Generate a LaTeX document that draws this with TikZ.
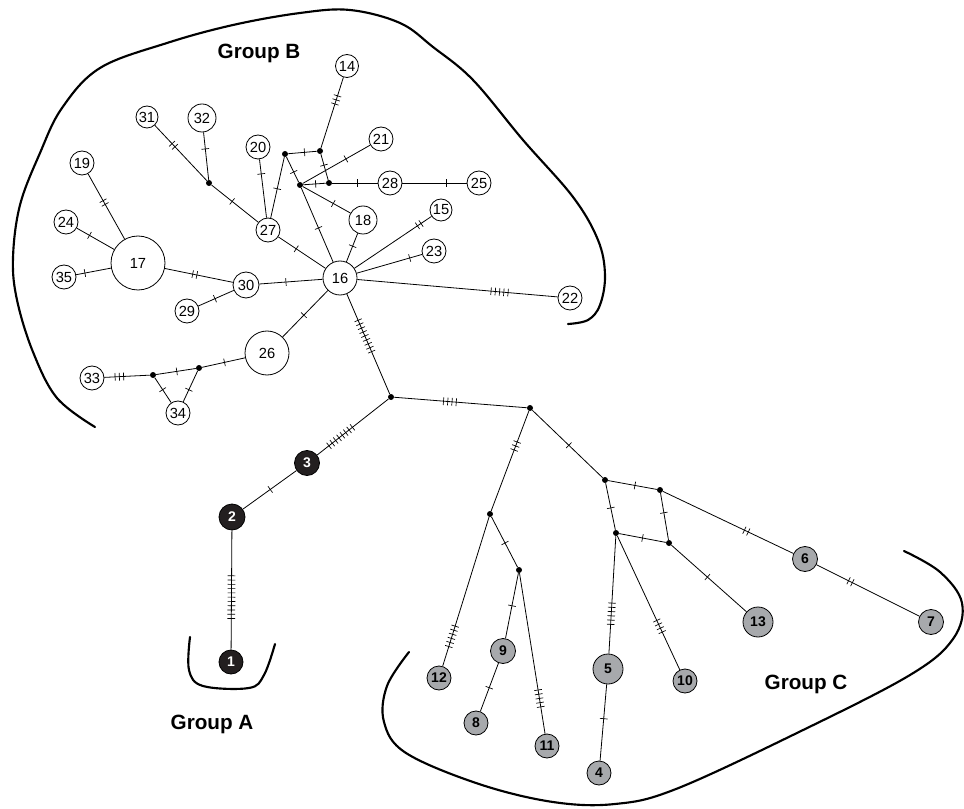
\documentclass[tikz,border=0pt]{standalone}
\usepackage{fontspec}
\setmainfont{Liberation Sans}
\usetikzlibrary{decorations.markings}

\definecolor{hapgray}{HTML}{A7A9AC}
\definecolor{hapblack}{HTML}{231F20}

\begin{document}
\begin{tikzpicture}[x=0.75pt,y=-0.75pt,
  hw/.style={circle,draw,line width=0.6pt,fill=white,inner sep=0pt,minimum size=#1*1.5pt,font=\fontsize{11}{13}\selectfont},
  hg/.style={hw=#1,fill=hapgray,font=\bfseries\fontsize{10.5}{12}\selectfont},
  hb/.style={hw=#1,fill=hapblack,text=white,font=\bfseries\fontsize{10.5}{12}\selectfont},
  jn/.style={circle,fill=black,inner sep=0pt,minimum size=4.5pt},
  link/.style={line width=0.6pt},
  hatch/.style 2 args={postaction={decorate,decoration={markings,mark=at position #2 with {\foreach \k in {1,...,#1}{\draw[line width=0.5pt] ({(\k-(#1+1)/2)*3.2pt},-2.9pt) -- ++(0,5.8pt);}}}}},
  grp/.style={line width=1.6pt,line cap=round},
  lbl/.style={font=\bfseries\fontsize{15.5}{18}\selectfont}
]
\path[fill=white] (0,0) rectangle (964,809);
\useasboundingbox (0,0) rectangle (964,809);

% ---- group outlines ----
\draw[grp] plot[smooth,tension=0.6] coordinates {(95,427) (57,398) (33,352) (17,300) (13,258) (20,205) (40,153) (62,108) (100,68) (167,43) (233,25) (300,13) (350,10) (400,23) (433,47) (473,80) (523,140) (573,197) (598,240) (605,275) (600,305) (588,320) (568,324)};
\draw[grp] plot[smooth,tension=0.6] coordinates {(190,637) (189,670) (203,686) (249,688) (264,675) (275,644)};
\draw[grp] plot[smooth,tension=0.6] coordinates {(409,652) (387,686) (384,722) (406,753) (479,784) (553,802) (615,804) (676,789) (799,732) (910,675) (953,639) (962,603) (940,572) (904,551)};

\node[lbl] (gA) at (212,724) {Group A};
\node[lbl] (gB) at (259,53) {Group B};
\node[lbl] (gC) at (806,684) {Group C};

% ---- group B haplotypes ----
\node[hw=11.5] (n14) at (347,66) {14};
\node[hw=11] (n31) at (147,117) {31};
\node[hw=14] (n32) at (202,118) {32};
\node[hw=12] (n20) at (258,147) {20};
\node[hw=12] (n21) at (381,139) {21};
\node[hw=12] (n28) at (390,183) {28};
\node[hw=12] (n25) at (479,183) {25};
\node[hw=12] (n19) at (82,163) {19};
\node[hw=12] (n24) at (66,222) {24};
\node[hw=27] (n17) at (138,263) {17};
\node[hw=12] (n35) at (64,277) {35};
\node[hw=12] (n27) at (268,230) {27};
\node[hw=14] (n18) at (363,220) {18};
\node[hw=17] (n16) at (340,278) {16};
\node[hw=13] (n30) at (246,285) {30};
\node[hw=12] (n29) at (187,311) {29};
\node[hw=11] (n15) at (441,210) {15};
\node[hw=12] (n23) at (434,251) {23};
\node[hw=12] (n22) at (570,298) {22};
\node[hw=22] (n26) at (267,353) {26};
\node[hw=12] (n33) at (92,378) {33};
\node[hw=12] (n34) at (178,413) {34};

% ---- group A haplotypes ----
\node[hb=12.5] (n3) at (307,463) {3};
\node[hb=13] (n2) at (232,517) {2};
\node[hb=12] (n1) at (231,662) {1};

% ---- group C haplotypes ----
\node[hg=12.5] (n9) at (503,651) {9};
\node[hg=12] (n12) at (439,678) {12};
\node[hg=12] (n8) at (476,723) {8};
\node[hg=12] (n11) at (547,746) {11};
\node[hg=15] (n5) at (608,669) {5};
\node[hg=12] (n10) at (685,681) {10};
\node[hg=15] (n13) at (758,622) {13};
\node[hg=12.5] (n6) at (805,559) {6};
\node[hg=12.5] (n7) at (931,622) {7};
\node[hg=12] (n4) at (599,773) {4};

% ---- median vectors ----
\node[jn] (A) at (209,183) {};
\node[jn] (P) at (285,154) {};
\node[jn] (Q) at (320,151) {};
\node[jn] (R) at (300,185) {};
\node[jn] (S) at (329,183) {};
\node[jn] (d1) at (153,375) {};
\node[jn] (d2) at (199,368) {};
\node[jn] (J1) at (391,397) {};
\node[jn] (J2) at (530,408) {};
\node[jn] (J3) at (490,514) {};
\node[jn] (J4) at (519,570) {};
\node[jn] (J5) at (605,480) {};
\node[jn] (J6) at (660,490) {};
\node[jn] (J7) at (616,533) {};
\node[jn] (J8) at (669,543) {};

% ---- links with mutation steps ----
\draw[link,hatch={3}{0.32}] (n14) -- (Q);
\draw[link,hatch={2}{0.36}] (n31) -- (A);
\draw[link,hatch={1}{0.35}] (n32) -- (A);
\draw[link,hatch={1}{0.44}] (A) -- (n27);
\draw[link,hatch={1}{0.25}] (n20) -- (n27);
\draw[link,hatch={1}{0.48}] (n27) -- (P);
\draw[link,hatch={1}{0.57}] (P) -- (Q);
\draw[link,hatch={1}{0.6}] (P) -- (R);
\draw[link,hatch={1}{0.43}] (Q) -- (S);
\draw[link,hatch={1}{0.55}] (R) -- (S);
\draw[link,hatch={1}{0.55}] (S) -- (n28);
\draw[link,hatch={1}{0.69}] (n28) -- (n25);
\draw[link,hatch={1}{0.64}] (R) -- (n21);
\draw[link,hatch={1}{0.64}] (R) -- (n18);
\draw[link,hatch={1}{0.54}] (R) -- (n16);
\draw[link,hatch={1}{0.45}] (n18) -- (n16);
\draw[link,hatch={1}{0.38}] (n27) -- (n16);
\draw[link,hatch={1}{0.42}] (n30) -- (n16);
\draw[link,hatch={2}{0.44}] (n17) -- (n30);
\draw[link,hatch={1}{0.47}] (n29) -- (n30);
\draw[link,hatch={2}{0.44}] (n19) -- (n17);
\draw[link,hatch={1}{0.34}] (n24) -- (n17);
\draw[link,hatch={1}{0.25}] (n35) -- (n17);
\draw[link,hatch={2}{0.16}] (n15) -- (n16);
\draw[link,hatch={1}{0.19}] (n23) -- (n16);
\draw[link,hatch={5}{0.71}] (n16) -- (n22);
\draw[link,hatch={1}{0.47}] (n26) -- (n16);
\draw[link,hatch={1}{0.48}] (n26) -- (d2);
\draw[link,hatch={1}{0.48}] (d2) -- (d1);
\draw[link,hatch={3}{0.67}] (d1) -- (n33);
\draw[link,hatch={1}{0.48}] (d1) -- (n34);
\draw[link,hatch={1}{0.61}] (d2) -- (n34);
\draw[link,hatch={9}{0.42}] (n16) -- (J1);

\draw[link,hatch={8}{0.67}] (J1) -- (n3);
\draw[link,hatch={1}{0.49}] (n3) -- (n2);
\draw[link,hatch={11}{0.56}] (n2) -- (n1);

\draw[link,hatch={4}{0.42}] (J1) -- (J2);
\draw[link,hatch={3}{0.35}] (J2) -- (J3);
\draw[link,hatch={6}{0.80}] (J3) -- (n12);
\draw[link,hatch={1}{0.52}] (J3) -- (J4);
\draw[link,hatch={1}{0.5}] (J4) -- (n9);
\draw[link,hatch={1}{0.51}] (n9) -- (n8);
\draw[link,hatch={5}{0.78}] (J4) -- (n11);
\draw[link,hatch={1}{0.52}] (J2) -- (J5);
\draw[link,hatch={1}{0.55}] (J5) -- (J6);
\draw[link,hatch={1}{0.53}] (J5) -- (J7);
\draw[link,hatch={1}{0.42}] (J6) -- (J8);
\draw[link,hatch={1}{0.5}] (J7) -- (J8);
\draw[link,hatch={2}{0.64}] (J6) -- (n6);
\draw[link,hatch={2}{0.33}] (n6) -- (n7);
\draw[link,hatch={1}{0.48}] (J8) -- (n13);
\draw[link,hatch={6}{0.66}] (J7) -- (n5);
\draw[link,hatch={4}{0.675}] (J7) -- (n10);
\draw[link,hatch={1}{0.45}] (n5) -- (n4);
\end{tikzpicture}
\end{document}
